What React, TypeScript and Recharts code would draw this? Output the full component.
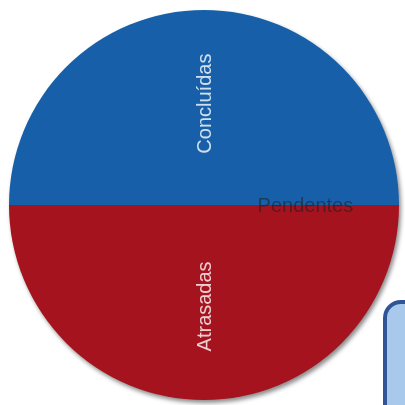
import React from 'react';
import { PieChart, Pie, Cell } from 'recharts';

const categories = ['Pendentes', 'Concluídas', 'Atrasadas'];
const values = [0, 50, 50];
const colors = ['#6d6d6d', '#1760a9', '#a5131f'];

const data = categories.map((name, i) => ({ name, value: values[i] }));

const RAD = Math.PI / 180;

const renderLabel = (props: any) => {
  const { cx, cy, midAngle, outerRadius, name, value } = props;
  const r = outerRadius * 0.52;
  const x = cx + r * Math.cos(-midAngle * RAD);
  const y = cy + r * Math.sin(-midAngle * RAD);
  if (value === 0) {
    return (
      <text
        x={x}
        y={y}
        fill='#1e1e1e'
        fillOpacity={0.55}
        fontSize={20}
        textAnchor='middle'
        dominantBaseline='central'
      >
        {name}
      </text>
    );
  }
  return (
    <text
      x={x}
      y={y}
      fill='#ffffff'
      fillOpacity={0.8}
      fontSize={20}
      textAnchor='middle'
      dominantBaseline='central'
      transform={`rotate(-90 ${x} ${y})`}
    >
      {name}
    </text>
  );
};

const App = () => {
  return (
    <div
      style={{
        position: 'absolute',
        left: 0,
        top: 0,
        width: 405,
        height: 405,
        overflow: 'hidden',
        background: '#fff',
        fontFamily: '"Liberation Sans", Arial, sans-serif',
      }}
    >
      <div style={{ filter: 'drop-shadow(2px 3px 2px rgba(0,0,0,0.45))' }}>
        <PieChart width={405} height={405}>
          <Pie
            data={data}
            dataKey='value'
            nameKey='name'
            cx={199}
            cy={200}
            outerRadius={195}
            startAngle={0}
            endAngle={360}
            stroke='none'
            label={renderLabel}
            labelLine={false}
            isAnimationActive={false}
          >
            {data.map((d, i) => (
              <Cell key={d.name} fill={colors[i]} />
            ))}
          </Pie>
        </PieChart>
      </div>
      <div
        style={{
          position: 'absolute',
          left: 383,
          top: 300,
          width: 80,
          height: 160,
          boxSizing: 'border-box',
          background: '#a9c9ec',
          border: '4px solid #2f5596',
          borderRadius: 18,
        }}
      />
    </div>
  );
};

export default App;
